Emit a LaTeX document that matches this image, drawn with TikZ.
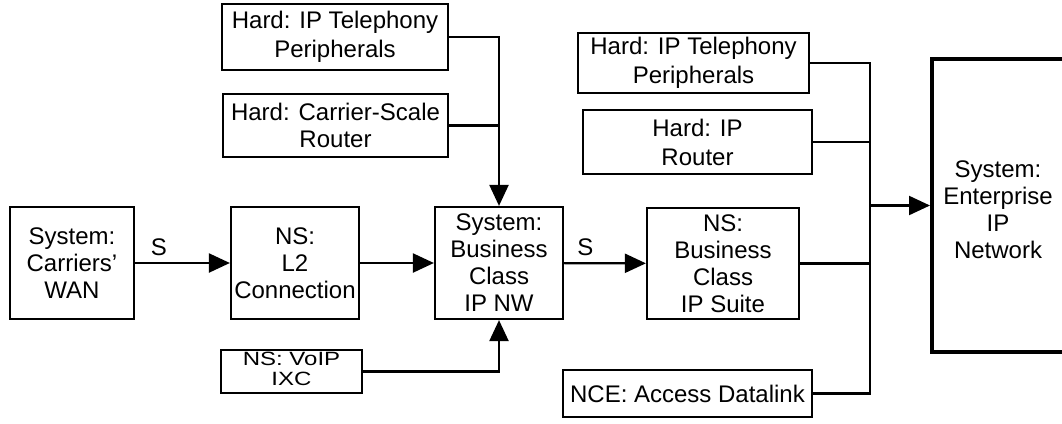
\documentclass[tikz,border=0pt]{standalone}
\usepackage{fontspec}
\setmainfont{Liberation Sans}
\usetikzlibrary{arrows.meta}
\begin{document}
\begin{tikzpicture}[x=1pt,y=-1pt,
  box/.style={draw,line width=2.2pt,inner sep=0pt,align=center,
    font=\fontsize{24}{27}\selectfont},
  conn/.style={line width=2.2pt},
  arr/.style={conn,-{Triangle[length=21pt,width=19pt]}},
  lbl/.style={inner sep=0pt,font=\fontsize{24}{27}\selectfont}]
\useasboundingbox (0,0) rectangle (1062,423);
% nodes
\node[box,minimum width=124pt,minimum height=112pt] (wan) at (72,263) {System:\\Carriers'\\WAN};
\node[box,minimum width=128pt,minimum height=112pt] (l2) at (295,263) {NS:\\L2\\Connection};
\node[box,minimum width=128pt,minimum height=112pt] (bnw) at (499,263) {System:\\Business\\Class\\IP NW};
\node[box,minimum width=152pt,minimum height=111pt] (suite) at (723,263.5) {NS:\\Business\\Class\\IP Suite};
\node[box,minimum width=226pt,minimum height=66pt,font=\fontsize{24}{29}\selectfont] (htp1) at (335,37) {Hard: IP Telephony\\Peripherals};
\node[box,minimum width=225pt,minimum height=63pt] (csr) at (335.5,125.5) {Hard: Carrier-Scale\\Router};
\node[box,minimum width=141pt,minimum height=43pt,font=\fontsize{24}{25}\selectfont] (voip) at (291.5,371.5)
  {\scalebox{1}[0.8]{\begin{tabular}{@{}c@{}}NS: VoIP\\IXC\end{tabular}}};
\node[box,minimum width=231pt,minimum height=60pt,font=\fontsize{24}{29}\selectfont] (htp2) at (693.5,63) {Hard: IP Telephony\\Peripherals};
\node[box,minimum width=229pt,minimum height=64pt,font=\fontsize{24}{29}\selectfont] (hir) at (697.5,142) {Hard: IP\\Router};
\node[box,minimum width=249pt,minimum height=47pt] (nce) at (687.5,393.5) {NCE: Access Datalink};
\node[box,line width=4pt,minimum width=132pt,minimum height=293pt,text height=106pt,text depth=0pt] (ent) at (998,205.5) {System:\\Enterprise\\IP\\Network};
\coordinate (j) at (870,205.5);
% connectors
\draw[arr] (wan) -- node[lbl,pos=0.25,above=6pt] (s1) {S} (l2);
\draw[arr] (l2) -- (bnw);
\draw[arr] (bnw) -- node[lbl,pos=0.26,above=6pt] (s2) {S} (suite);
\draw[arr] (htp1.east) -| (bnw.north);
\draw[conn] (csr.east) -- (csr.east -| bnw.north);
\draw[arr] (voip.east) -| (bnw.south);
\draw[conn] (htp2.east) -| (j);
\draw[conn] (hir.east) -| (j);
\draw[conn] (suite.east) -| (j);
\draw[conn] (nce.east) -| (j);
\draw[arr] (j) -- (ent.west);
\end{tikzpicture}
\end{document}
